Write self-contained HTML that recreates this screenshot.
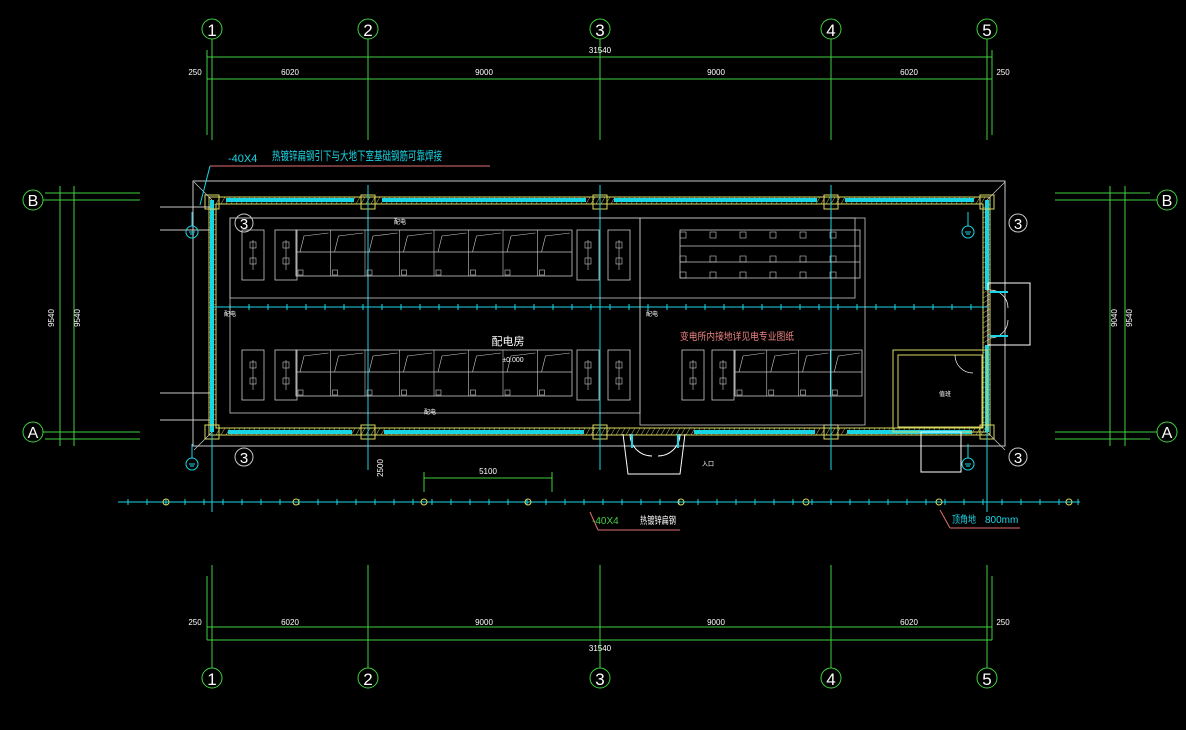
<!DOCTYPE html>
<html><head><meta charset="utf-8">
<style>
html,body{margin:0;padding:0;background:#000;width:1186px;height:730px;overflow:hidden}
svg{display:block}
text{font-family:"Liberation Sans","Noto Sans CJK SC",sans-serif}
</style></head>
<body>
<svg id="s" width="1186" height="730" viewBox="0 0 1186 730" xmlns="http://www.w3.org/2000/svg">
<rect width="1186" height="730" fill="#000"/>
<g id="g" fill="none"></g>
</svg>
<script>
const g=document.getElementById('g');let h='';
const G='#3fd13f',C='#19d6e6',W='#c8c8c8',Y='#d8d860',WH='#ffffff';
function L(x1,y1,x2,y2,c,w){h+=`<line x1="${x1}" y1="${y1}" x2="${x2}" y2="${y2}" stroke="${c}" stroke-width="${w||1}"/>`}
function R(x,y,w,hh,c,sw){h+=`<rect x="${x}" y="${y}" width="${w}" height="${hh}" stroke="${c}" stroke-width="${sw||1}"/>`}
function Ci(x,y,r,c){h+=`<circle cx="${x}" cy="${y}" r="${r}" stroke="${c}"/>`}
function T(x,y,s,c,sz,a,extra){h+=`<text x="${x}" y="${y}" fill="${c}" font-size="${sz}" text-anchor="${a||'middle'}" stroke="none" ${extra||''}>${s}</text>`}
const X=[212,368,600,831,987];
X.forEach((x,i)=>{Ci(x,29,10,G);T(x,36,i+1,WH,17);L(x,39,x,140,G);Ci(x,678,10,G);T(x,685,i+1,WH,17);L(x,565,x,668,G);});
L(207,57,992,57,G);L(207,79,992,79,G);L(207,50,207,135,G);L(992,50,992,135,G);
L(207,576,207,640,G);L(992,576,992,640,G);
L(207,627,992,627,G);L(207,640,992,640,G);
T(600,53,'31540',WH,8);T(600,651,'31540',WH,8);
const segs=[[195,'250'],[290,'6020'],[484,'9000'],[716,'9000'],[909,'6020'],[1003,'250']];
segs.forEach(s=>{T(s[0],75,s[1],WH,8);T(s[0],625,s[1],WH,8);});
[[200,'B'],[432,'A']].forEach(r=>{Ci(33,r[0],10,G);T(33,r[0]+6,r[1],WH,16);L(43,r[0],140,r[0],G);
Ci(1167,r[0],10,G);T(1167,r[0]+6,r[1],WH,16);L(1055,r[0],1157,r[0],G);});
L(45,193,140,193,G);L(45,439,140,439,G);L(1055,193,1150,193,G);L(1055,439,1150,439,G);
L(60,186,60,446,G);L(74,186,74,446,G);L(1110,186,1110,446,G);L(1125,186,1125,446,G);
h+=`<text x="80" y="318" fill="#fff" font-size="8" transform="rotate(-90 80 318)" text-anchor="middle">9540</text>`;
h+=`<text x="54" y="318" fill="#fff" font-size="8" transform="rotate(-90 54 318)" text-anchor="middle">9540</text>`;
h+=`<text x="1117" y="318" fill="#fff" font-size="8" transform="rotate(-90 1117 318)" text-anchor="middle">9040</text>`;
h+=`<text x="1132" y="318" fill="#fff" font-size="8" transform="rotate(-90 1132 318)" text-anchor="middle">9540</text>`;
R(193,181,812,265,W);
L(160,207,212,207,W);L(160,230,212,230,W);L(160,393,212,393,W);L(160,420,212,420,W);
R(209,197,781,238,Y);R(216,204,767,224,Y);
// hatch in walls
for(let x=216;x<984;x+=5){L(x,204,x+4,197,Y,0.5);L(x,435,x+4,428,Y,0.5);}
for(let y=208;y<428;y+=5){L(209,y,216,y-4,Y,0.5);L(983,y,990,y-4,Y,0.5);}
[[220,360],[376,592],[608,823],[839,980]].forEach(s=>{L(s[0]+6,200,s[1]-6,200,C,4);});
[[220,360],[376,592],[686,823],[839,980]].forEach(s=>{L(s[0]+8,432,s[1]-8,432,C,4);});
L(212,200,212,432,C,4);L(987,200,987,290,C,4);L(987,345,987,432,C,4);
X.forEach(x=>{R(x-7,195,14,14,Y);R(x-7,425,14,14,Y);});
L(212,307,987,307,C);[368,600,831].forEach(x=>L(x,185,x,470,C));
for(let x=230;x<990;x+=19){L(x,304,x,310,C);}
R(230,218,410,195,W,0.8);R(640,218,225,207,W,0.8);R(230,218,625,80,W,0.8);
function cab(x,y,w,hh){R(x,y,w,hh,W,0.8);L(x+w/2,y+10,x+w/2,y+hh-10,W,0.6);h+=`<rect x="${x+w/2-3}" y="${y+12}" width="6" height="6" stroke="${W}" stroke-width="0.6"/><rect x="${x+w/2-3}" y="${y+hh-22}" width="6" height="6" stroke="${W}" stroke-width="0.6"/>`;}
cab(242,230,22,50);cab(275,230,22,50);cab(577,230,22,50);cab(608,230,22,50);
cab(242,350,22,50);cab(275,350,22,50);cab(577,350,22,50);cab(608,350,22,50);
cab(682,350,22,50);cab(712,350,22,50);
function row(x1,x2,y,n){R(x1,y,x2-x1,46,W,0.8);L(x1,y+22,x2,y+22,W,0.8);const d=(x2-x1)/n;for(let i=0;i<n;i++){const x=x1+i*d;L(x,y,x,y+46,W,0.6);h+=`<path d="M${x+4} ${y+22} L${x+8} ${y+6} L${x+d-2} ${y+3}" stroke="${W}" stroke-width="0.6"/>`;h+=`<rect x="${x+2}" y="${y+40}" width="5" height="5" stroke="${W}" stroke-width="0.6"/>`;}}
row(296,572,230,8);row(296,572,350,8);row(735,862,350,4);
R(680,230,180,48,W,0.8);L(680,246,860,246,W,0.8);L(680,262,860,262,W,0.8);
for(let x=680;x<860;x+=30){R(x,232,6,6,W,0.6);R(x,256,6,6,W,0.6);R(x,272,6,6,W,0.6);}
R(893,350,94,82,Y);R(898,355,84,72,Y);
R(921,432,40,40,WH);R(988,283,42,62,WH);
h+=`<path d="M990 290 A18 18 0 0 1 1008 308 M990 338 A18 18 0 0 0 1008 320 M955 355 A18 18 0 0 0 973 373" stroke="${WH}" stroke-width="0.7"/>`;
L(990,292,1008,292,C,2);L(990,336,1008,336,C,2);
h+=`<path d="M623 434 L628 474 L680 474 L685 434 M630 434 A22 22 0 0 0 652 456 M680 434 A22 22 0 0 1 658 456" stroke="${WH}" stroke-width="1"/>`;
L(632,434,632,448,C,2);L(678,434,678,448,C,2);
[[212,200],[987,200],[212,432],[987,432]].forEach((p,i)=>{const dx=i%2?1:-1;L(p[0],p[1],p[0]+18*dx,p[1]-18*(i<2?1:-1),W,0.7);});
[[244,223],[1018,223],[244,457],[1018,457]].forEach(p=>{Ci(p[0],p[1],9,W);T(p[0],p[1]+6,'3',WH,15);});
[[192,232],[968,232],[192,464],[968,464]].forEach(p=>{Ci(p[0],p[1],6,C);L(p[0]-3,p[1],p[0]+3,p[1],C);L(p[0]-2,p[1]+2,p[0]+2,p[1]+2,C);L(p[0],p[1]-6,p[0],p[1]-20,C);});
L(118,502,1080,502,C);for(let x=128;x<1080;x+=19)L(x,499,x,505,C);
[166,296,424,528,681,806,939,1069].forEach(x=>Ci(x,502,3,Y));
L(212,430,212,512,C);L(987,430,987,512,C);
L(424,478,552,478,G);L(424,472,424,492,G);L(552,472,552,492,G);T(488,474,'5100',WH,8);
h+=`<text x="383" y="468" fill="#fff" font-size="8" transform="rotate(-90 383 468)" text-anchor="middle">2500</text>`;
L(210,166,490,166,'#e07070');L(210,166,200,205,C);
T(228,162,'-40X4',C,11,'start');
T(272,160,'热镀锌扁钢引下与大地下室基础钢筋可靠焊接',C,12,'start','textLength="170" lengthAdjust="spacingAndGlyphs"');
T(508,345,'配电房',WH,11);T(513,362,'±0.000',WH,7);
T(680,340,'变电所内接地详见电专业图纸',"#f08080",10,'start','textLength="114" lengthAdjust="spacingAndGlyphs"');
L(590,512,598,530,'#e07070');L(598,530,680,530,'#e07070');
T(592,524,'-40X4',G,10,'start');T(640,524,'热镀锌扁钢',WH,10,'start','textLength="36" lengthAdjust="spacingAndGlyphs"');
L(940,510,950,528,'#e07070');L(950,528,1020,528,'#e07070');
T(952,523,'顶角地',C,10,'start','textLength="24" lengthAdjust="spacingAndGlyphs"');T(985,523,'800mm',C,10,'start');
T(400,224,'配电',WH,6);T(652,316,'配电',WH,6);T(230,316,'配电',WH,6);T(430,414,'配电',WH,6);T(945,396,'值班',WH,6);T(708,466,'入口',WH,6);
g.innerHTML=h;
</script>
</body></html>
